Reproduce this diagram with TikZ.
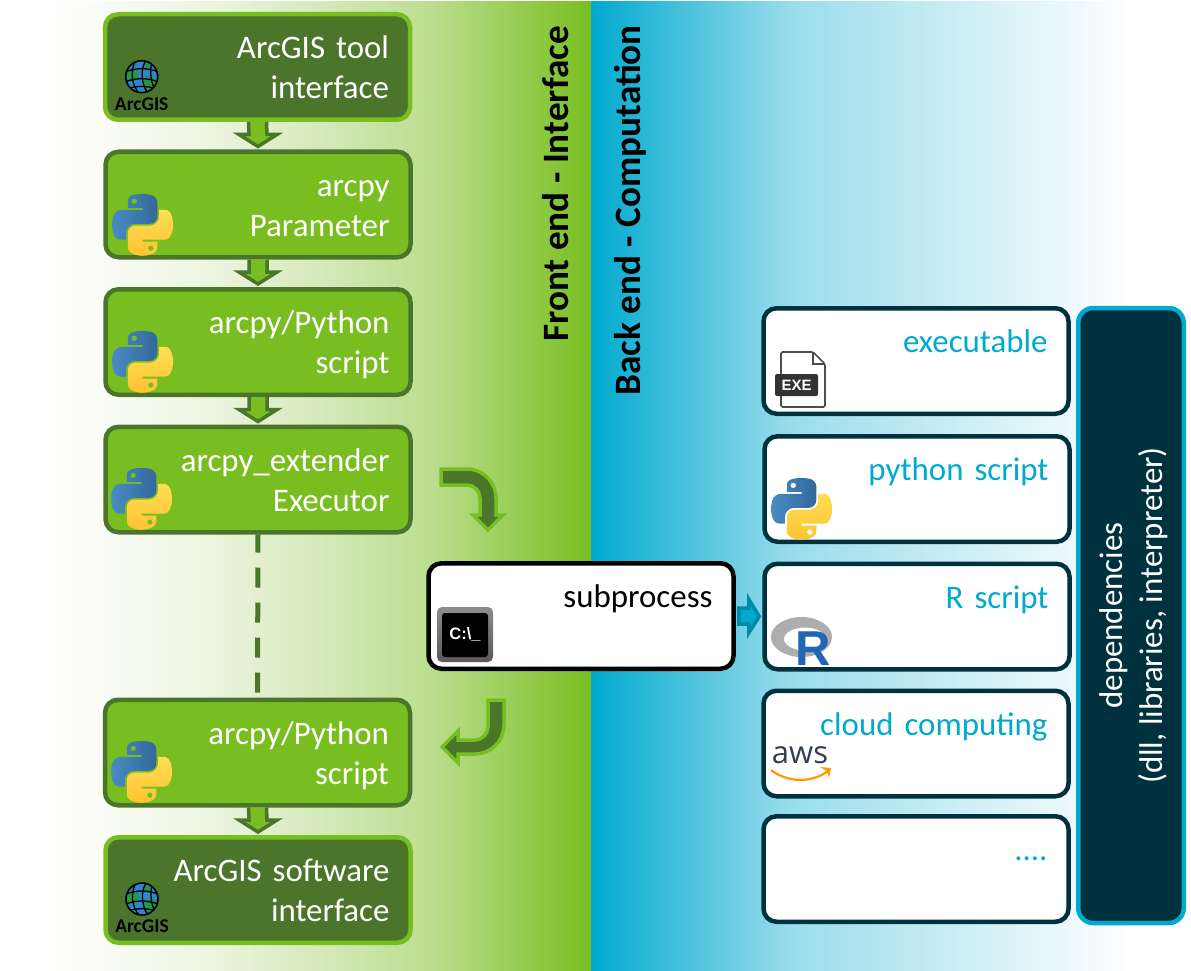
\documentclass[tikz,border=0pt]{standalone}
\usepackage{fontspec}
\setmainfont{Carlito}
\newfontfamily\arialf{Liberation Sans}
\newfontfamily\openf{Open Sans}
\usetikzlibrary{calc}
\definecolor{gdark}{HTML}{4B752B}
\definecolor{glight}{HTML}{78BE20}
\definecolor{gmid}{HTML}{BBDE8F}
\definecolor{gsa}{HTML}{FAFCF6}
\definecolor{gsb}{HTML}{EEF6E2}
\definecolor{gsc}{HTML}{D5E9BB}
\definecolor{bmain}{HTML}{00A9CE}
\definecolor{bmid}{HTML}{99DDEC}
\definecolor{navy}{HTML}{00313F}
\definecolor{tealdk}{HTML}{008AA8}
\definecolor{pyblueA}{HTML}{4A8CC4}
\definecolor{pyblueB}{HTML}{33689A}
\definecolor{pyyelA}{HTML}{FFDD55}
\definecolor{pyyelB}{HTML}{FFC331}
\definecolor{globeblue}{HTML}{2F86CC}
\definecolor{globegreen}{HTML}{1E9A4A}
\definecolor{rblue}{HTML}{2165B6}
\definecolor{awsink}{HTML}{333E4F}
\definecolor{awsorange}{HTML}{FF9900}
\pgfdeclarehorizontalshading{leftbg}{100bp}{color(0bp)=(white); color(25bp)=(white); color(30.4bp)=(gsa); color(39.5bp)=(gsb); color(50.4bp)=(gsc); color(60.4bp)=(gmid); color(75bp)=(glight); color(100bp)=(glight)}
\pgfdeclarehorizontalshading{rightbg}{100bp}{color(0bp)=(bmain); color(25bp)=(bmain); color(43.5bp)=(bmid); color(75bp)=(white); color(100bp)=(white)}
\newcommand{\bodyfont}{\fontsize{32.9}{40}\selectfont}
\tikzset{
  x=1pt,y=-1pt,
  roundbox/.style={rectangle,rounded corners=13pt,line width=4.5pt,text width=263pt,inner xsep=21pt,inner ysep=0pt,
    minimum height=105.5pt,align=right,font=\bodyfont,
    execute at begin node={\rule{0pt}{35pt}},execute at end node={\strut}},
  greenbox/.style={roundbox,fill=glight,draw=gdark,text=white},
  darkbox/.style={roundbox,fill=gdark,draw=glight,text=white},
  whitebox/.style={roundbox,fill=white,draw=navy,text=bmain},
  cmdbox/.style={roundbox,fill=white,draw=black,text=black},
  depsbox/.style={rectangle,rounded corners=15pt,line width=4.5pt,fill=navy,draw=bmain,
    minimum width=105.5pt,minimum height=615pt},
  depstext/.style={rotate=90,inner sep=0pt,text=white,align=center,font=\bodyfont,
    execute at begin node={\strut},execute at end node={\strut}},
  sidetitle/.style={rotate=90,font=\fontsize{37.2}{40}\selectfont\bfseries,text=black,inner sep=0pt},
  downblock/.style={fill=glight,draw=gdark,line width=3.5pt,line join=miter},
  bendblock/.style={fill=gdark,draw=glight,line width=3.5pt,line join=miter},
  rightblock/.style={fill=bmain,draw=tealdk,line width=3.5pt,line join=miter},
  pylogo/.pic={
    \shade[even odd rule,left color=pyblueA,right color=pyblueB]
      (54.92,0) .. controls (50.34,.02) and (45.96,.41) .. (42.11,1.09) .. controls (30.76,3.1) and (28.7,7.29) .. (28.7,15.03) -- (28.7,25.25) -- (55.51,25.25) -- (55.51,28.66) -- (18.64,28.66) .. controls (10.85,28.66) and (4.02,33.34) .. (1.89,42.25) .. controls (-.57,52.46) and (-.68,58.84) .. (1.89,69.5) .. controls (3.79,77.44) and (8.35,83.09) .. (16.14,83.09) -- (25.36,83.09) -- (25.36,70.84) .. controls (25.36,61.99) and (33.01,54.19) .. (42.11,54.19) -- (68.89,54.19) .. controls (76.34,54.19) and (82.29,48.05) .. (82.29,40.56) -- (82.29,15.03) .. controls (82.29,7.77) and (76.16,2.31) .. (68.89,1.09) .. controls (64.28,.33) and (59.5,-.02) .. (54.92,0) -- cycle
      (40.42,13.33) circle[radius=5.07];
    \shade[even odd rule,top color=pyyelA,bottom color=pyyelB]
      (85.64,28.66) -- (85.64,40.56) .. controls (85.64,49.79) and (77.81,57.56) .. (68.89,57.56) -- (42.11,57.56) .. controls (34.77,57.56) and (28.7,63.84) .. (28.7,71.19) -- (28.7,96.72) .. controls (28.7,103.99) and (35.02,108.26) .. (42.11,110.34) .. controls (50.59,112.84) and (58.73,113.29) .. (68.89,110.34) .. controls (75.64,108.39) and (82.29,104.46) .. (82.29,96.72) -- (82.29,86.5) -- (55.51,86.5) -- (55.51,83.09) -- (95.7,83.09) .. controls (103.49,83.09) and (106.4,77.66) .. (109.11,69.5) .. controls (111.9,61.1) and (111.79,53.02) .. (109.11,42.25) .. controls (107.18,34.49) and (103.5,28.66) .. (95.7,28.66) -- cycle
      (70.58,98.42) circle[radius=5.07];
  },
  arcgislogo/.pic={
    \begin{scope}
      \clip (0,0) circle[radius=15.5];
      \fill[globeblue] (-16,-16) rectangle (16,16);
      \fill[globegreen] (-15,-3) .. controls (-8,-12) and (-3,-8) .. (-3,-2) .. controls (-3,4) and (-10,6) .. (-15,4) -- cycle;
      \fill[globegreen] (2,2) .. controls (8,-2) and (14,0) .. (16,6) .. controls (12,12) and (6,14) .. (2,12) -- cycle;
      \fill[globegreen] (4,-15) .. controls (8,-12) and (10,-8) .. (6,-6) .. controls (3,-8) and (2,-12) .. (4,-15) -- cycle;
      \draw[black,line width=1.3pt] (-16,-5) .. controls (-6,-9) and (6,-9) .. (16,-5);
      \draw[black,line width=1.3pt] (-16,5) .. controls (-6,1) and (6,1) .. (16,5);
      \draw[black,line width=1.3pt] (-14,12) .. controls (-6,9) and (6,9) .. (14,12);
      \draw[black,line width=1.3pt] (-6,-16) .. controls (-12,-6) and (-10,8) .. (-3,16);
      \draw[black,line width=1.3pt] (4,-16) .. controls (-2,-6) and (0,8) .. (6,16);
      \draw[black,line width=1.3pt] (10,-14) .. controls (8,-6) and (9,6) .. (13,12);
    \end{scope}
    \draw[black,line width=1.6pt] (0,0) circle[radius=16];
    \node[inner sep=0pt,text=black,font=\fontsize{19.5}{20}\selectfont\bfseries] (-txt) at (0,27) {ArcGIS};
  },
}
\begin{document}
\begin{tikzpicture}
\useasboundingbox (0,0) rectangle (1191,971);
\fill[white] (0,0) rectangle (1191,971);
\shade[shading=leftbg] (40,2) rectangle (591,971);
\shade[shading=rightbg] (591,2) rectangle (1130,971);

\node[sidetitle,anchor=base east] (ft) at (568,26) {Front end - Interface};
\node[sidetitle,anchor=base east] (bt) at (640,25) {Back end - Computation};

\node[darkbox]  (A) at (257.5,67) {ArcGIS tool\\interface};
\node[greenbox] (B) at (258,204.5) {arcpy\\Parameter};
\node[greenbox] (C) at (258,342) {arcpy/Python\\script};
\node[greenbox] (D) at (258,479.5) {arcpy\_extender\\Executor};
\node[greenbox] (E) at (257.5,752.5) {arcpy/Python\\script};
\node[darkbox]  (F) at (258,890) {ArcGIS software\\interface};
\node[cmdbox]   (S) at (581,616) {subprocess\\\ };
\node[whitebox] (X1) at (916,361) {executable\\\ };
\node[whitebox] (X2) at (917,489) {python script\\\ };
\node[whitebox] (X3) at (917,616.5) {R script\\\ };
\node[whitebox] (X4) at (916,743.5) {cloud computing\\\ };
\node[whitebox] (X5) at (916,869) {....\\\ };
\node[depsbox]  (Y) at (1131,615.5) {};
\node[depstext] (Yt) at (1137,615.5) {dependencies\\(dll, libraries, interpreter)};

% block connectors down
\foreach \a/\b in {A/B,B/C,C/D,E/F}{
  \draw[downblock] ($(\a.south)+(-9,0)$) -- ($(\b.north)+(-9,-15)$) -- ($(\b.north)+(-19,-15)$) -- ($(\b.north)+(0,-3)$) -- ($(\b.north)+(19,-15)$) -- ($(\b.north)+(9,-15)$) -- ($(\a.south)+(9,0)$);
}
\draw[gdark,line width=5pt,dash pattern=on 20pt off 15pt,dash phase=2pt] (D.south) -- (E.north);

% bent arrows
\begin{scope}[shift={(441,469)}]
\draw[bendblock] (0,0) -- (26,0) .. controls (42,0) and (55,13) .. (55,29) -- (55,46) -- (62,46) -- (47,61) -- (32,46) -- (39,46) -- (39,29) .. controls (39,22) and (33,16) .. (26,16) -- (0,16) -- cycle;
\end{scope}
\begin{scope}[shift={(488,700)}]
\draw[bendblock] (0,0) -- (16,0) -- (16,25) .. controls (16,41) and (3,54) .. (-13,54) -- (-30,54) -- (-30,63) -- (-46,47) -- (-30,31) -- (-30,40) -- (-13,40) .. controls (-6,40) and (0,34) .. (0,27) -- cycle;
\end{scope}
% right block
\draw[rightblock] ($(S.east)+(3,-8)$) -- ($(S.east)+(13,-8)$) -- ($(S.east)+(13,-17)$) -- ($(X3.west)+(-3,0)$) -- ($(S.east)+(13,17)$) -- ($(S.east)+(13,8)$) -- ($(S.east)+(3,8)$) -- cycle;

% logos
\pic[scale=.55] at (112,194) {pylogo};
\pic[scale=.55] at (112,331) {pylogo};
\pic[scale=.55] at (111,468) {pylogo};
\pic[scale=.55] at (111,741) {pylogo};
\pic[scale=.55] at (771,478) {pylogo};
\pic (g1) at (141.7,76.7) {arcgislogo};
\pic (g2) at (142,899) {arcgislogo};

% EXE icon
\draw[black!70,line width=1.6pt,rounded corners=1.5pt] (781,374) -- (781,352) -- (813,352) -- (825,364) -- (825,407) -- (781,407) -- (781,396);
\draw[black!70,line width=1.3pt] (813,352) -- (813,364) -- (825,364);
\node[rectangle,rounded corners=2pt,fill=black!80,minimum width=43pt,minimum height=22pt,inner sep=0pt,text=white,font=\arialf\fontsize{15}{15}\selectfont\bfseries] (exe) at (796.5,385) {EXE};

% console icon
\shade[rounded corners=5pt,top color=black!45,bottom color=black!65] (437,607) rectangle (493,662);
\node[rectangle,rounded corners=3pt,fill=black,minimum width=46pt,minimum height=44pt,inner sep=0pt,text=white,font=\arialf\fontsize{16.5}{16}\selectfont\bfseries] (cmd) at (465,635) {C:\textbackslash\_};

% R logo
\fill[even odd rule,black!32] (801.5,637) ellipse[x radius=30.5,y radius=20] (805,639) ellipse[x radius=21,y radius=11.5];
\node[inner sep=0pt,anchor=base,text=rblue,font=\arialf\fontsize{49}{49}\selectfont\bfseries] (rl) at (813,665) {R};

% AWS logo
\node[inner sep=0pt,text=awsink,font=\openf\fontsize{31}{31}\selectfont] (aws) at (800,755) {aws};
\draw[awsorange,line width=2.2pt] (771,770) .. controls (788,783) and (812,783) .. (828,771);
\fill[awsorange] (820,767) -- (831,768) -- (829,778) -- (827,771) -- cycle;
\end{tikzpicture}
\end{document}
